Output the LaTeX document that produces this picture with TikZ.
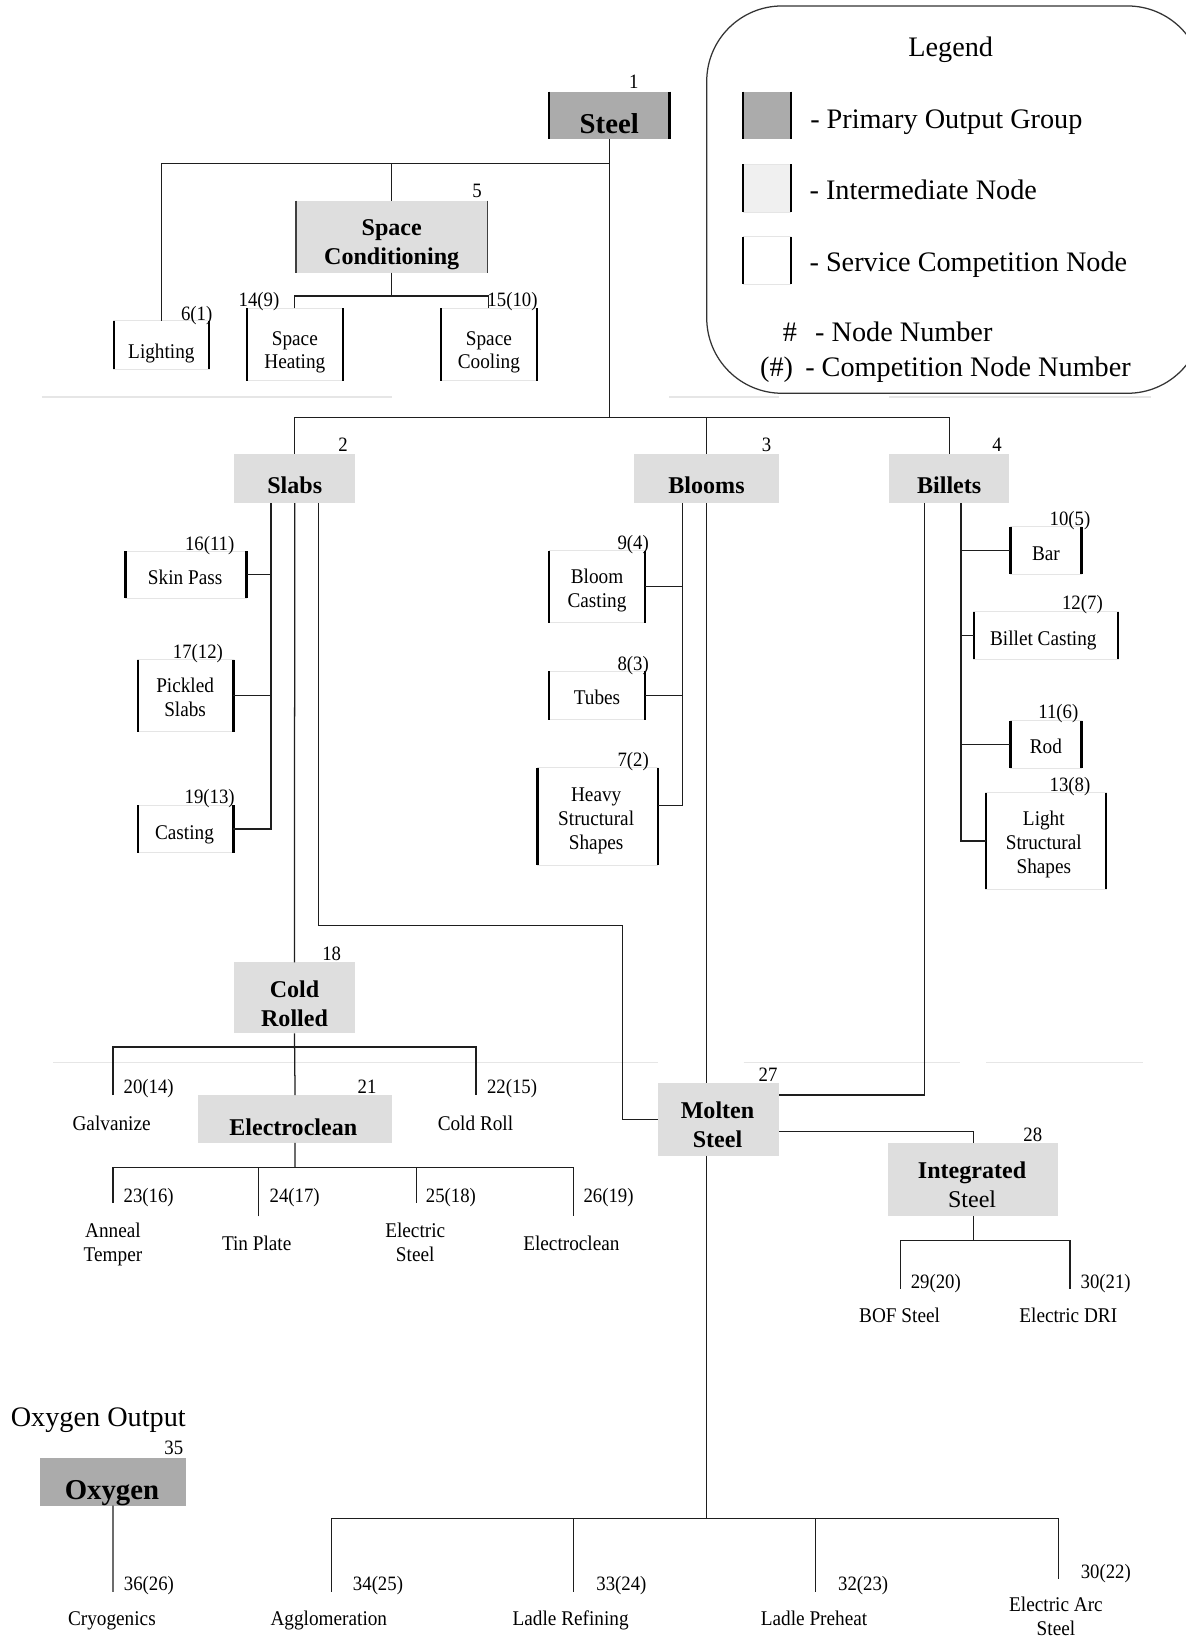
\documentclass[tikz,border=0pt]{standalone}
\usepackage{fontspec}
\setmainfont{Liberation Serif}
\newfontfamily\cnd[FakeStretch=0.92]{Liberation Serif}
\usetikzlibrary{fit}
\definecolor{primgray}{HTML}{ABABAB}
\definecolor{intergray}{HTML}{DEDEDE}
\definecolor{leggray}{HTML}{F0F0F0}
\definecolor{linecol}{HTML}{1E1E1E}
\definecolor{faint}{HTML}{E6E6E6}
\newcommand\nbx[4]{\node[#1, fit={(#3) (#4)}] (#2) {};}
\newcommand\sides[2]{\draw[#1] (#2.north west) -- (#2.south west) (#2.north east) -- (#2.south east);}
\begin{document}
\begin{tikzpicture}[x=1pt,y=-1pt,
  conn/.style={draw=linecol, line width=1.2pt},
  bxbase/.style={rectangle, inner sep=0pt, outer sep=0pt},
  svcbox/.style={bxbase, fill=white, draw=black!10, line width=0.8pt},
  primbox/.style={bxbase, fill=primgray},
  interbox/.style={bxbase, fill=intergray},
  legintbox/.style={bxbase, fill=leggray, draw=black!10, line width=0.8pt},
  side/.style={draw=black, line width=2.2pt},
  thinside/.style={draw=black!75, line width=1.5pt},
  rtxt/.style={inner sep=0pt, align=center, font=\cnd\fontsize{20}{22.7}\selectfont, execute at begin node=\strut, execute at end node=\strut, yshift=4.54pt},
  btxt/.style={inner sep=0pt, align=center, font=\bfseries\fontsize{23}{28}\selectfont, execute at begin node=\strut, execute at end node=\strut, yshift=5.6pt},
  bigtxt/.style={inner sep=0pt, anchor=base, font=\bfseries\fontsize{27.5}{32}\selectfont},
  num/.style={inner sep=0pt, anchor=base, font=\cnd\fontsize{19.5}{22}\selectfont},
  legtxt/.style={inner sep=0pt, anchor=base west, font=\fontsize{27}{32}\selectfont},
  faintline/.style={draw=faint, line width=1.3pt},
  legframe/.style={draw=black!80, line width=1.2pt, rounded corners=72pt}
]
\useasboundingbox (0,0) rectangle (1133,1568);
\fill[white] (0,0) rectangle (1133,1568);

% faint separators
\draw[faintline] (40,379.5) -- (375,379.5) (640,379.5) -- (745,379.5) (850,379.5) -- (1100,379.5);
\draw[faintline] (51,1016) -- (629,1016) (711,1016) -- (918,1016) (943,1016) -- (1093,1016);

% legend
\draw[legframe] (675.7,5.7) rectangle (1150,376);
\node[inner sep=0pt, anchor=base, font=\fontsize{27}{32}\selectfont] (legT) at (909,54.2) {Legend};
\nbx{primbox}{lgp}{710.7,87.7}{756,133.2}
\sides{side}{lgp}
\nbx{legintbox}{lgi}{710.7,157.1}{756,202.7}
\sides{side}{lgi}
\nbx{svcbox}{lgs}{710.7,226.3}{756,271.5}
\sides{side}{lgs}
\node[legtxt] (lgpT) at (774.5,122.7) {- Primary Output Group};
\node[legtxt] (lgiT) at (773.8,191.2) {- Intermediate Node};
\node[legtxt] (lgsT) at (773.8,259.7) {- Service Competition Node};
\node[inner sep=0pt, anchor=base, font=\fontsize{27}{32}\selectfont] (lghash) at (755.3,326.7) {\#};
\node[legtxt] (lgnT) at (779.2,326.7) {- Node Number};
\node[legtxt] (lgph) at (726.6,360.2) {(\#)};
\node[legtxt] (lgcT) at (769.7,360.2) {- Competition Node Number};

% ---------- boxes ----------
\nbx{primbox}{steel}{525,87.7}{640,133.2}
\sides{side}{steel}
\node[bigtxt] (steelT) at (582.5,127.5) {Steel};
\node[num] (n1) at (606,84.5) {1};

\nbx{interbox}{sc}{283,191.9}{466,260.7}
\sides{thinside}{sc}
\node[btxt] (scT) at (374.5,241) {Space\\Conditioning};
\node[num] (n5) at (456,188.7) {5};

\nbx{svcbox}{lighting}{108.8,306.6}{199.8,352.8}
\sides{side}{lighting}
\node[rtxt] (lightingT) at (154.3,342.7) {Lighting};
\node[num] (n6) at (188,306) {6(1)};

\nbx{svcbox}{sheat}{236,294.8}{327.8,364}
\sides{side}{sheat}
\node[rtxt] (sheatT) at (281.9,342.7) {Space\\Heating};
\node[num] (n14) at (247.6,293) {14(9)};

\nbx{svcbox}{scool}{421.3,294.8}{513.5,364}
\sides{side}{scool}
\node[rtxt] (scoolT) at (467.4,342.7) {Space\\Cooling};
\node[num] (n15) at (490,293) {15(10)};

\nbx{interbox}{slabs}{224,434}{339.6,481}
\node[btxt] (slabsT) at (281.8,472.3) {Slabs};
\node[num] (n2) at (328,431.8) {2};
\nbx{interbox}{blooms}{606,434}{745,481}
\node[btxt] (bloomsT) at (675.5,472.3) {Blooms};
\node[num] (n3) at (732.9,431.8) {3};
\nbx{interbox}{billets}{850,434}{965,481}
\node[btxt] (billetsT) at (907.5,472.3) {Billets};
\node[num] (n4) at (953.3,431.8) {4};

% slab children
\nbx{svcbox}{skinpass}{120,527}{235.7,572}
\sides{side}{skinpass}
\node[rtxt] (skinpassT) at (177,559.3) {Skin Pass};
\node[num] (n16) at (200.5,525.9) {16(11)};
\nbx{svcbox}{pickled}{131.7,630.7}{223.2,699.6}
\sides{side}{pickled}
\node[rtxt] (pickledT) at (177,674.9) {Pickled\\Slabs};
\node[num] (n17) at (189.2,629.5) {17(12)};
\nbx{svcbox}{casting}{131.7,769.7}{223.2,815.3}
\sides{side}{casting}
\node[rtxt] (castingT) at (176.4,802.5) {Casting};
\node[num] (n19) at (200.5,768) {19(13)};

% bloom children
\nbx{svcbox}{bloomcast}{525,526.5}{617,595.4}
\sides{side}{bloomcast}
\node[rtxt] (bloomcastT) at (570.8,570.5) {Bloom\\Casting};
\node[num] (n9) at (605.4,525) {9(4)};
\nbx{svcbox}{tubes}{525,642}{617,688}
\sides{side}{tubes}
\node[rtxt] (tubesT) at (570.8,674) {Tubes};
\node[num] (n8) at (605.4,640.6) {8(3)};
\nbx{svcbox}{heavy}{514,734}{629,827}
\sides{side}{heavy}
\node[rtxt] (heavyT) at (570,790.7) {Heavy\\Structural\\Shapes};
\node[num] (n7) at (605.4,733) {7(2)};

% billet children
\nbx{svcbox}{bar}{966,503.6}{1034,549}
\sides{side}{bar}
\node[rtxt] (barT) at (1000,536) {Bar};
\node[num] (n10) at (1023,502) {10(5)};
\nbx{svcbox}{billetcast}{931,585}{1069,630}
\sides{side}{billetcast}
\node[rtxt] (billetcastT) at (997.5,617.3) {Billet Casting};
\node[num] (n12) at (1034.9,582.3) {12(7)};
\nbx{svcbox}{rod}{966,689}{1034,734.6}
\sides{side}{rod}
\node[rtxt] (rodT) at (1000,720.3) {Rod};
\node[num] (n11) at (1011.9,686.8) {11(6)};
\nbx{svcbox}{light}{942.5,758}{1057.5,850}
\sides{side}{light}
\node[rtxt] (lightT) at (998,813.1) {Light\\Structural\\Shapes};
\node[num] (n13) at (1023,757) {13(8)};

% cold rolled
\nbx{interbox}{coldrolled}{223.7,920}{339.4,988}
\node[btxt] (coldrolledT) at (281.6,969.2) {Cold\\Rolled};
\node[num] (n18) at (317.1,917.9) {18};
\nbx{interbox}{electroclean}{189.4,1047}{374.8,1092.6}
\node[btxt] (electrocleanT) at (280.4,1085.2) {Electroclean};
\node[num] (n21) at (350.9,1045.4) {21};
\node[num] (n20) at (142.2,1045.4) {20(14)};
\node[num] (n22) at (489.6,1045.4) {22(15)};
\node[rtxt] (galvT) at (106.7,1080.4) {Galvanize};
\node[rtxt] (crollT) at (454.6,1080.4) {Cold Roll};
\node[num] (n23) at (142.2,1149.9) {23(16)};
\node[num] (n24) at (281.7,1149.9) {24(17)};
\node[num] (n25) at (431.1,1149.9) {25(18)};
\node[num] (n26) at (581.8,1149.9) {26(19)};
\node[rtxt] (anT) at (108,1195.7) {Anneal\\Temper};
\node[rtxt] (tpT) at (245.4,1195.8) {Tin Plate};
\node[rtxt] (esT) at (397,1195.7) {Electric\\Steel};
\node[rtxt] (elT) at (546.3,1195.8) {Electroclean};

% molten steel
\nbx{interbox}{molten}{629,1035.6}{745,1105}
\node[btxt] (moltenT) at (686,1085.2) {Molten\\Steel};
\node[num] (n27) at (734.3,1033.6) {27};
\nbx{interbox}{integrated}{849,1093}{1012,1163}
\node[btxt] (integratedT) at (929.4,1142.3) {Integrated\\\mdseries Steel};
\node[num] (n28) at (987.5,1091.6) {28};
\node[num] (n29) at (894.7,1231.8) {29(20)};
\node[num] (n30) at (1057.1,1231.8) {30(21)};
\node[rtxt] (bofT) at (860.1,1264.6) {BOF Steel};
\node[rtxt] (edriT) at (1021.4,1264.6) {Electric DRI};

% bottom row
\node[num] (n34) at (361.4,1520.2) {34(25)};
\node[num] (n33) at (594.1,1520.2) {33(24)};
\node[num] (n32) at (825.3,1520.2) {32(23)};
\node[num] (n30b) at (1057.3,1509.1) {30(22)};
\node[rtxt] (agT) at (314.4,1553.7) {Agglomeration};
\node[rtxt] (lrT) at (545.6,1553.7) {Ladle Refining};
\node[rtxt] (lpT) at (778.3,1553.7) {Ladle Preheat};
\node[rtxt] (easT) at (1009.6,1553.4) {Electric Arc\\Steel};

% oxygen
\node[inner sep=0pt, anchor=base, font=\fontsize{27}{32}\selectfont] (oxoutT) at (94,1364.1) {Oxygen Output};
\nbx{primbox}{oxygen}{38.3,1394}{177.8,1439.6}
\node[bigtxt] (oxygenT) at (107,1433.2) {Oxygen};
\node[num] (n35) at (166.2,1391.1) {35};
\node[num] (n36) at (142.4,1520.2) {36(26)};
\node[rtxt] (cryoT) at (107,1553.7) {Cryogenics};

% ---------- coordinates ----------
\coordinate (bus1) at (0,156.5);
\coordinate (bus2) at (0,399);
\coordinate (bus3) at (0,283);
\coordinate (sx1) at (259,0);
\coordinate (sx3) at (304.5,885);
\coordinate (blx) at (652.6,0);
\coordinate (bx1) at (918.7,0);
\coordinate (bx2) at (884,0);
\coordinate (cbus) at (281.6,1001);
\coordinate (galv) at (108,1047);
\coordinate (croll) at (455,1047);
\coordinate (ebus) at (282,1116);
\coordinate (an) at (108,1150);
\coordinate (tp) at (247,1163);
\coordinate (es) at (398,1150);
\coordinate (el) at (548,1163);
\coordinate (ibus) at (930.5,1186);
\coordinate (bof) at (861,1232);
\coordinate (edri) at (1023,1232);
\coordinate (mbus) at (675.5,1452);
\coordinate (ag) at (317,1522);
\coordinate (lr) at (548,1522);
\coordinate (lp) at (780,1522);
\coordinate (eas) at (1012,1510);
\coordinate (cryo) at (108,1522);

% ---------- connectors ----------
\draw[conn] (steel.south) -- (steel.south |- bus2);
\draw[conn] (steel.south |- bus1) -| (lighting.north);
\draw[conn] (sc.north) -- (sc.north |- bus1);
\draw[conn] (sc.south) -- (sc.south |- bus3);
\draw[conn] (sheat.north) |- (scool.north |- bus3) -- (scool.north);

\draw[conn] (slabs.north) |- (billets.north |- bus2) -- (billets.north);
\draw[conn] (blooms.north) -- (blooms.north |- bus2);

\draw[conn] (slabs.south -| sx1) -- (casting.east -| sx1) -- (casting.east);
\draw[conn] (skinpass.east) -- (skinpass.east -| sx1);
\draw[conn] (pickled.east) -- (pickled.east -| sx1);
\draw[conn] (slabs.south) -- (coldrolled.north);
\draw[conn] (slabs.south -| sx3) -- (sx3) -| ([xshift=-34pt]molten.west) -- (molten.west);

\draw[conn] (blooms.south -| blx) -- ([yshift=10.5pt]heavy.east -| blx) -- ([yshift=10.5pt]heavy.east);
\draw[conn] (bloomcast.east) -- (bloomcast.east -| blx);
\draw[conn] (tubes.east) -- (tubes.east -| blx);
\draw[conn] (blooms.south) -- (blooms.south |- molten.north);

\draw[conn] (billets.south -| bx1) -- (light.west -| bx1) -- (light.west);
\draw[conn] (bar.west) -- (bar.west -| bx1);
\draw[conn] (billetcast.west) -- (billetcast.west -| bx1);
\draw[conn] (rod.west) -- (rod.west -| bx1);
\draw[conn] (billets.south -| bx2) |- ([yshift=23.3pt]molten.east);

\draw[conn] (coldrolled.south) -- (electroclean.north);
\draw[conn] (galv) |- (cbus) -| (croll);
\draw[conn] (electroclean.south) -- (ebus);
\draw[conn] (an) |- (ebus) -| (el);
\draw[conn] (tp) -- (tp |- ebus);
\draw[conn] (es) -- (es |- ebus);

\draw[conn] ([yshift=-11.7pt]molten.east) -| (integrated.north);
\draw[conn] (integrated.south) -- (ibus);
\draw[conn] (bof) |- (ibus) -| (edri);

\draw[conn] (molten.south -| mbus) -- (mbus);
\draw[conn] (ag) |- (mbus) -| (eas);
\draw[conn] (lr) -- (lr |- mbus);
\draw[conn] (lp) -- (lp |- mbus);

\draw[conn] (oxygen.south) -- (cryo);
\end{tikzpicture}
\end{document}
